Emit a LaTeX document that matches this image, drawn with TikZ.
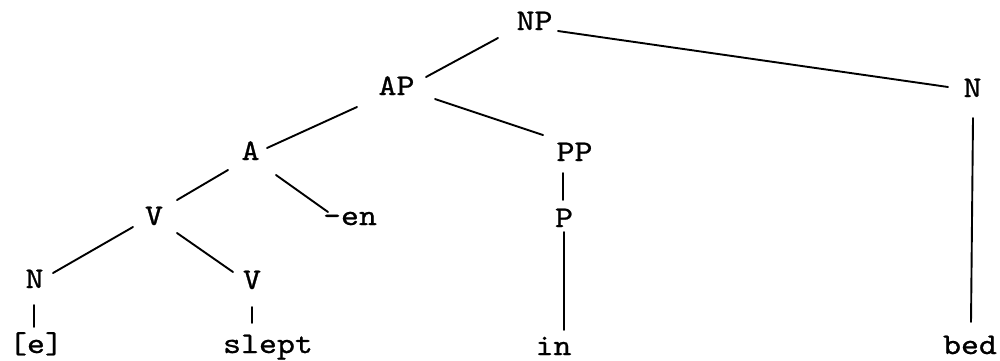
\documentclass[tikz,border=0pt]{standalone}
\usepackage{fontspec}
\newfontfamily\treefont{lmmono10-regular.otf}[FakeStretch=1.14,FakeBold=0.8]
\begin{document}
\begin{tikzpicture}[x=0.5pt,y=-0.5pt,
  lbl/.style={anchor=base, inner sep=0pt, font=\treefont\fontsize{15pt}{17pt}\selectfont},
  edge/.style={line width=0.95pt, line cap=round}]
\fill[white] (0,0) rectangle (1000,360);
\useasboundingbox (0,0) rectangle (1000,360);
% nodes (x = centre, y = baseline)
\node[lbl] (NP) at (534.5,30) {NP};
\node[lbl] (AP) at (396.5,95) {AP};
\node[lbl] (Nr) at (972.5,97) {N};
\node[lbl] (A)  at (250.5,160) {A};
\node[lbl] (PP) at (574.5,161) {PP};
\node[lbl] (V1) at (154,225) {V};
\node[lbl] (en) at (350,225) {-en};
\node[lbl] (P)  at (564,227) {P};
\node[lbl] (N2) at (34.5,288) {N};
\node[lbl] (V2) at (252,289) {V};
\node[lbl] (e)  at (36,353) {[e]};
\node[lbl] (slept) at (268,353) {slept};
\node[lbl] (in) at (553.5,355) {in};
\node[lbl] (bed) at (970,354) {bed};
% connectors
\draw[edge] ([shift={(-36.5,8)}]NP.base) -- ([shift={(29.5,-18)}]AP.base);
\draw[edge] ([shift={(23.5,1)}]NP.base) -- ([shift={(-24.5,-10)}]Nr.base);
\draw[edge] ([shift={(-39.5,12)}]AP.base) -- ([shift={(16.5,-12)}]A.base);
\draw[edge] ([shift={(38.5,4)}]AP.base) -- ([shift={(-31.5,-26)}]PP.base);
\draw[edge] ([shift={(-22.5,10)}]A.base) -- ([shift={(23,-25)}]V1.base);
\draw[edge] ([shift={(25.5,15)}]A.base) -- ([shift={(-22,-13)}]en.base);
\draw[edge] ([shift={(-11.5,12)}]PP.base) -- ([shift={(-1,-27)}]P.base);
\draw[edge] ([shift={(0,5)}]P.base) -- ([shift={(10.5,-25)}]in.base);
\draw[edge] ([shift={(0.5,21)}]Nr.base) -- ([shift={(1,-32)}]bed.base);
\draw[edge] ([shift={(-21,2)}]V1.base) -- ([shift={(18.5,-15)}]N2.base);
\draw[edge] ([shift={(23,8)}]V1.base) -- ([shift={(-19,-17)}]V2.base);
\draw[edge] ([shift={(-0.5,17)}]N2.base) -- ([shift={(-2,-26)}]e.base);
\draw[edge] ([shift={(0,18)}]V2.base) -- ([shift={(-16,-30)}]slept.base);
\end{tikzpicture}
\end{document}
